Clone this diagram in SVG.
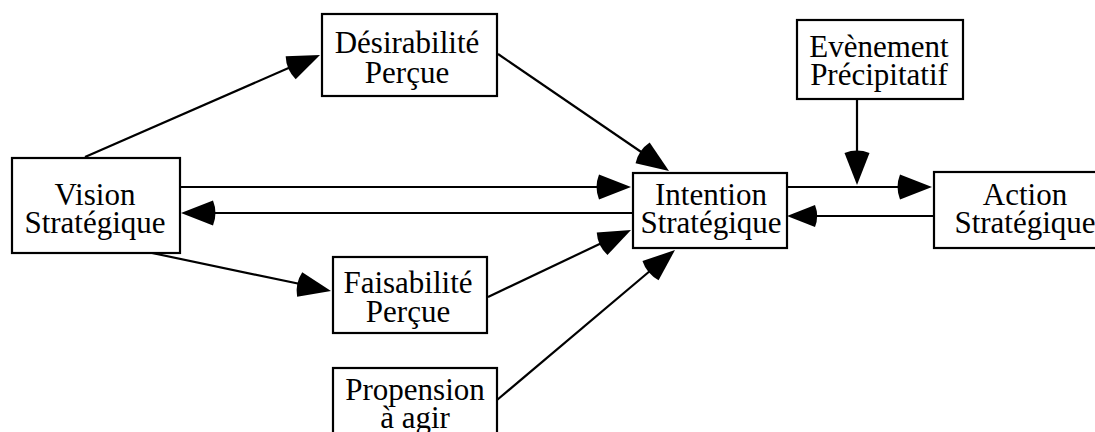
<svg xmlns="http://www.w3.org/2000/svg" width="1095" height="432" viewBox="0 0 1095 432">
<style>
.box{fill:#fff;stroke:#000;stroke-width:2.2}
.t{font-family:"Liberation Serif","Times New Roman",serif;font-size:31px;fill:#000;text-anchor:middle}
.ln{stroke:#000;stroke-width:2.2;fill:none}
.ah{fill:#000;stroke:none}
</style>
<rect width="1095" height="432" fill="#fff"/>
<g id="connectors">
  <line class="ln" x1="85" y1="157" x2="300" y2="63"/>
  <line class="ln" x1="498" y1="54" x2="650" y2="158"/>
  <line class="ln" x1="180" y1="187" x2="605" y2="187"/>
  <line class="ln" x1="633" y1="213" x2="205" y2="213"/>
  <line class="ln" x1="787" y1="187" x2="905" y2="187"/>
  <line class="ln" x1="934" y1="216" x2="812" y2="216"/>
  <line class="ln" x1="857" y1="100" x2="857" y2="158"/>
  <line class="ln" x1="152" y1="253" x2="305" y2="285"/>
  <line class="ln" x1="488" y1="297" x2="608" y2="240"/>
  <line class="ln" x1="497" y1="400" x2="657" y2="265"/>
  <!-- arrowheads: sector shapes -->
  <path class="ah" d="M0,0 L-32,-12.5 A34,34 0 0 0 -32,12.5 Z" transform="translate(320,55) rotate(-23.6)"/>
  <path class="ah" d="M0,0 L-32,-12.5 A34,34 0 0 0 -32,12.5 Z" transform="translate(669,171) rotate(34.4)"/>
  <path class="ah" d="M0,0 L-32,-12.5 A34,34 0 0 0 -32,12.5 Z" transform="translate(631,187)"/>
  <path class="ah" d="M0,0 L-32,-12.5 A34,34 0 0 0 -32,12.5 Z" transform="translate(181,213) rotate(180)"/>
  <path class="ah" d="M0,0 L-32,-12.5 A34,34 0 0 0 -32,12.5 Z" transform="translate(932,187)"/>
  <path class="ah" d="M0,0 L-28,-11 A30,30 0 0 0 -28,11 Z" transform="translate(787,216) rotate(180)"/>
  <path class="ah" d="M0,0 L-32,-12.5 A34,34 0 0 0 -32,12.5 Z" transform="translate(857,185) rotate(90)"/>
  <path class="ah" d="M0,0 L-32,-12.5 A34,34 0 0 0 -32,12.5 Z" transform="translate(331,291) rotate(11.8)"/>
  <path class="ah" d="M0,0 L-32,-12.5 A34,34 0 0 0 -32,12.5 Z" transform="translate(631,230) rotate(-25.4)"/>
  <path class="ah" d="M0,0 L-32,-12.5 A34,34 0 0 0 -32,12.5 Z" transform="translate(675,250) rotate(-40.1)"/>
</g>
<g id="desirabilite">
  <rect class="box" x="322" y="14" width="175" height="82"/>
  <text class="t" x="407" y="53">Désirabilité</text>
  <text class="t" x="407" y="83">Perçue</text>
</g>
<g id="vision">
  <rect class="box" x="12" y="158" width="168" height="95"/>
  <text class="t" x="95" y="205">Vision</text>
  <text class="t" x="95" y="233">Stratégique</text>
</g>
<g id="intention">
  <rect class="box" x="633" y="173" width="154" height="75"/>
  <text class="t" x="711" y="205">Intention</text>
  <text class="t" x="711" y="233">Stratégique</text>
</g>
<g id="action">
  <rect class="box" x="934" y="172" width="190" height="76"/>
  <text class="t" x="1025" y="205">Action</text>
  <text class="t" x="1025" y="233">Stratégique</text>
</g>
<g id="faisabilite">
  <rect class="box" x="333" y="257" width="154" height="76"/>
  <text class="t" x="408" y="293">Faisabilité</text>
  <text class="t" x="408" y="322">Perçue</text>
</g>
<g id="propension">
  <rect class="box" x="333" y="368" width="164" height="90"/>
  <text class="t" x="415" y="400">Propension</text>
  <text class="t" x="415" y="428">à agir</text>
</g>
<g id="evenement">
  <rect class="box" x="797" y="20" width="166" height="79"/>
  <text class="t" x="879" y="57">Evènement</text>
  <text class="t" x="879" y="85">Précipitatif</text>
</g>
</svg>
